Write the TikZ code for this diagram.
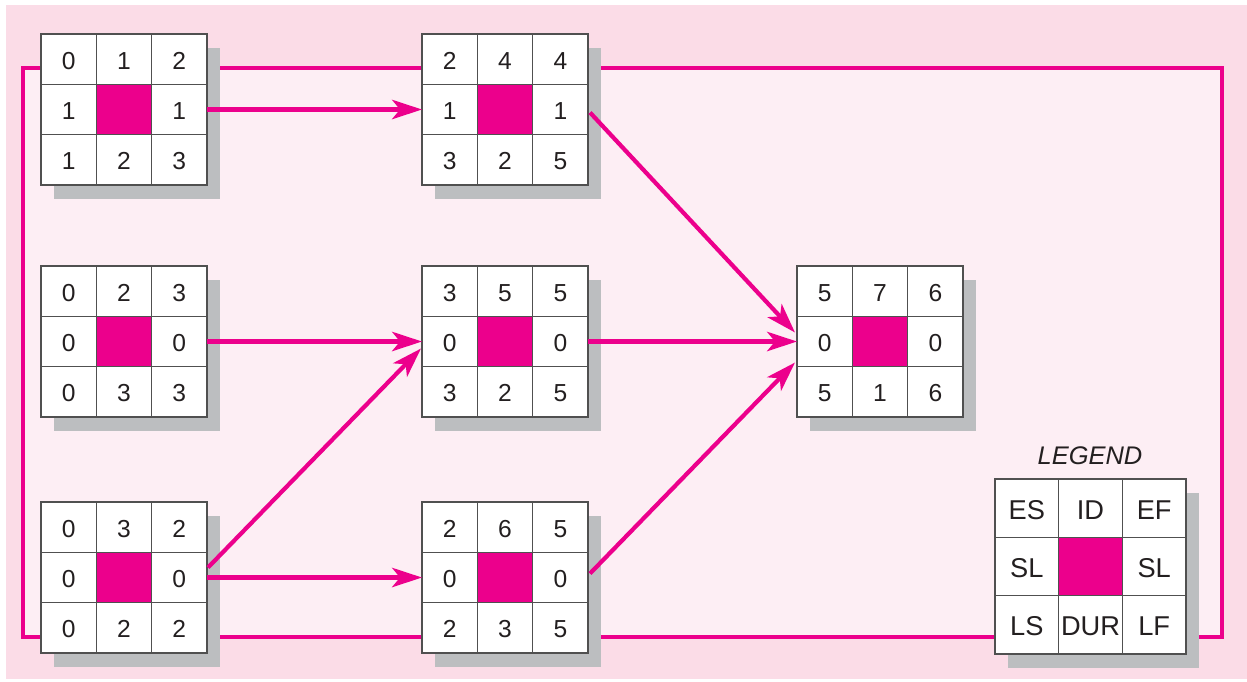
\documentclass[tikz,border=0pt]{standalone}
\usepackage{fontspec}
\setmainfont{Liberation Sans}
\usetikzlibrary{arrows.meta,calc}
\definecolor{mag}{HTML}{EC008C}
\definecolor{outerpink}{HTML}{FBDCE7}
\definecolor{innerpink}{HTML}{FDEEF4}
\definecolor{shadowgray}{HTML}{BCBEC0}
\definecolor{gridc}{HTML}{505050}
\definecolor{txt}{HTML}{231F20}
\tikzset{
 boxnode/.style={draw=gridc, line width=0.85pt, fill=white, inner sep=0pt, outer sep=0pt, rectangle},
 gridline/.style={draw=gridc, line width=0.85pt},
 celltxt/.style={text=txt, font=\fontsize{14}{16}\selectfont, inner sep=0pt},
 legtxt/.style={text=txt, font=\fontsize{15.5}{17}\selectfont, inner sep=0pt},
 flow/.style={draw=mag, line width=2.4pt, -{Stealth[length=17pt,width=11pt,inset=4.5pt]}},
 loopline/.style={draw=mag, line width=2.3pt},
}
% name, x, y, w, h, top row, middle (left,right), bottom row, text style
\newcommand\actbox[9]{%
 \fill[shadowgray] ({#2+13},{#3+14}) rectangle ({#2+#4+13},{#3+#5+14});
 \node[boxnode, minimum width=#4*0.02cm, minimum height=#5*0.02cm, anchor=north west] (#1) at (#2,#3) {};
 \fill[mag] ({#2+#4/3},{#3+#5/3}) rectangle ({#2+2*#4/3},{#3+2*#5/3});
 \draw[gridline] ({#2+#4/3},#3) -- ({#2+#4/3},{#3+#5});
 \draw[gridline] ({#2+2*#4/3},#3) -- ({#2+2*#4/3},{#3+#5});
 \draw[gridline] (#2,{#3+#5/3}) -- ({#2+#4},{#3+#5/3});
 \draw[gridline] (#2,{#3+2*#5/3}) -- ({#2+#4},{#3+2*#5/3});
 \draw[gridline] (#1.north west) rectangle (#1.south east);
 \foreach \val [count=\i] in {#6} \node[#9] at ({#2+(2*\i-1)*#4/6},{#3+#5/6+1.5}) {\val};
 \foreach \val [count=\i] in {#7} \node[#9] at ({#2+(4*\i-3)*#4/6},{#3+#5/2+1.5}) {\val};
 \foreach \val [count=\i] in {#8} \node[#9] at ({#2+(2*\i-1)*#4/6},{#3+5*#5/6+1.5}) {\val};
}
\begin{document}
\begin{tikzpicture}[x=0.02cm,y=-0.02cm]
\useasboundingbox (0,0) rectangle (1247,681);
\fill[white] (0,0) rectangle (1247,681);
\fill[outerpink] (6,5) rectangle (1247,679);
\draw[loopline, fill=innerpink] (23,68) rectangle (1222,637);

\actbox{c11}{41}{34}{166}{151}{0,1,2}{1,1}{1,2,3}{celltxt}
\actbox{c12}{422}{34}{166}{151}{2,4,4}{1,1}{3,2,5}{celltxt}
\actbox{c21}{41}{266}{166}{151}{0,2,3}{0,0}{0,3,3}{celltxt}
\actbox{c22}{422}{266}{166}{151}{3,5,5}{0,0}{3,2,5}{celltxt}
\actbox{c31}{41}{502}{166}{151}{0,3,2}{0,0}{0,2,2}{celltxt}
\actbox{c32}{422}{502}{166}{151}{2,6,5}{0,0}{2,3,5}{celltxt}
\actbox{fin}{797}{266}{166}{151}{5,7,6}{0,0}{5,1,6}{celltxt}
\actbox{leg}{995}{479}{191}{175}{ES,ID,EF}{SL,SL}{LS,DUR,LF}{legtxt}
\node[text=txt, font=\itshape\fontsize{14.5}{16}\selectfont, inner sep=0pt] (legtitle) at (1090,456) {LEGEND};

\draw[flow] (c11.east) -- (c12.west);
\draw[flow] (c21.east) -- (c22.west);
\draw[flow] (c31.east) -- (c32.west);
\draw[flow] ($(c31.east)+(1,-10)$) -- ($(c22.west)+(-1,7)$);
\draw[flow] (c22.east) -- (fin.west);
\draw[flow] ($(c12.east)+(2,3)$) -- ($(fin.west)+(-2,-9)$);
\draw[flow] ($(c32.east)+(2,-4)$) -- ($(fin.west)+(-2,21)$);
\end{tikzpicture}
\end{document}
